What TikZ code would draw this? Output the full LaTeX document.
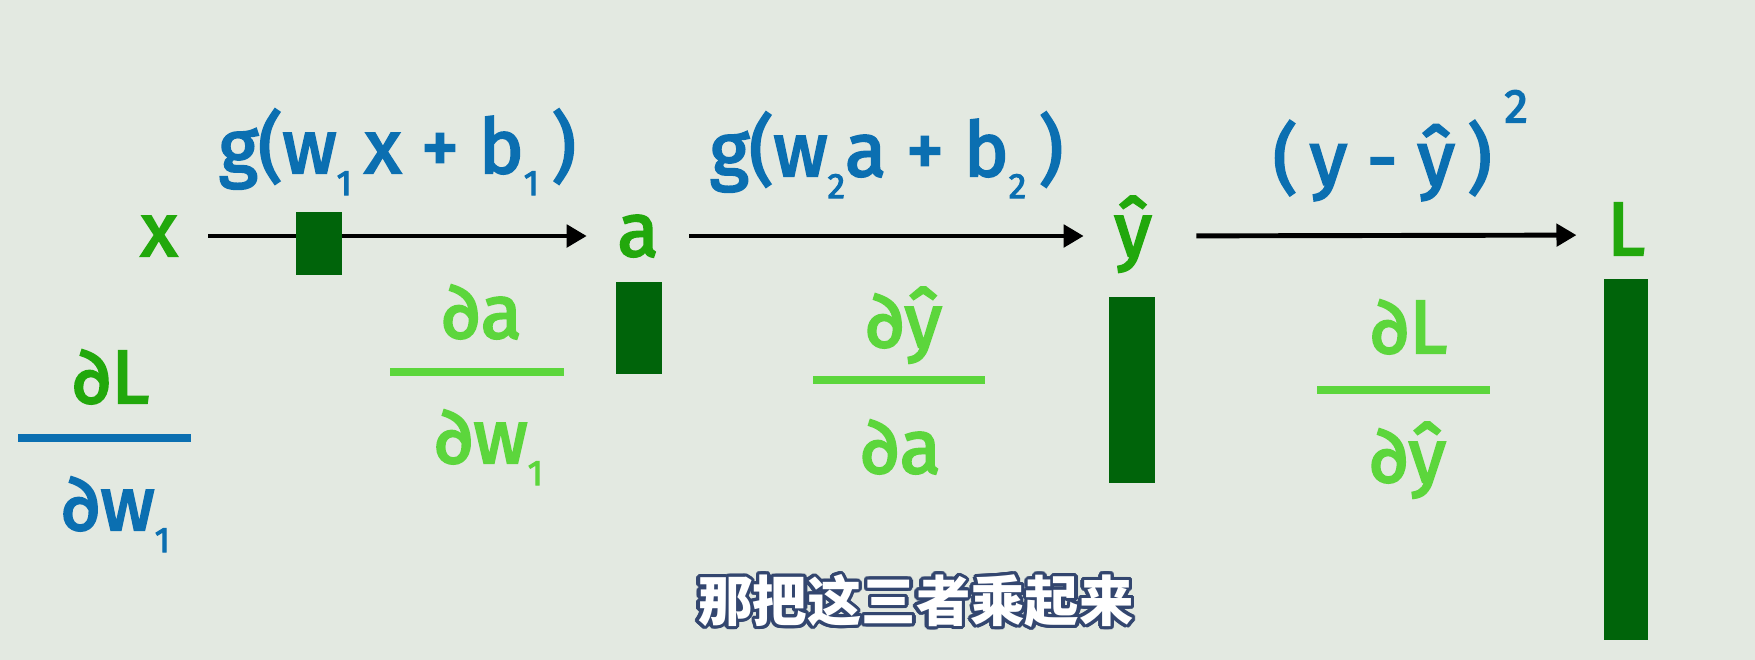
\documentclass[tikz,border=0pt]{standalone}
\usepackage{fontspec}
\setmainfont{Fira Sans}[UprightFeatures={FakeBold=3}]
\newfontfamily\cjkfont{Noto Sans CJK SC}
\usetikzlibrary{arrows.meta,positioning,calc}
\definecolor{bgcol}{HTML}{E3E9E1}
\definecolor{barcol}{HTML}{00640A}
\definecolor{varcol}{HTML}{22A80C}
\definecolor{dercol}{HTML}{5CD63C}
\definecolor{fncol}{HTML}{0B6FB1}
\definecolor{subcol}{HTML}{33466F}
\newcommand\lsub[1]{\raisebox{-2.2mm}{\fontsize{10}{10}\selectfont #1}}

\begin{document}
\begin{tikzpicture}[x=0.1mm,y=-0.1mm,
   >={Triangle[length=2mm,width=2.2mm]},
   var/.style={text=varcol,font=\fontsize{21.5}{24}\selectfont,text height=4mm,text depth=0pt,inner xsep=3mm,inner ysep=0pt,anchor=base},
   fn/.style={text=fncol,font=\fontsize{21.5}{24}\selectfont,anchor=base},
   der/.style={text=dercol,font=\fontsize{21.5}{24}\selectfont,anchor=base,inner sep=0pt},
   flow/.style={->,line width=1.4pt},
   fbar/.style={line width=2.4pt,dercol},
   gbar/.style={fill=barcol},
   subtxt/.style={font=\cjkfont\bfseries\fontsize{15.5}{16}\selectfont,inner sep=0pt}]
  \fill[bgcol] (0,0) rectangle (1755,660);
  % variables along the chain
  \node[var] (x) at (159,256) {x};
  \node[var] (a) at (638,256) {a};
  \node[var] (yh) at (1133,256) {ŷ};
  \node[var] (L) at (1626,255) {L};
  % forward steps
  \draw[flow] (x) -- node[fn,yshift=6.3mm]{g(w\lsub{1}\,x + b\lsub{1}\,)} (a);
  \draw[flow] (a) -- node[fn,yshift=6mm]{g(w\lsub{2}a + b\lsub{2}\,)} (yh);
  \draw[flow,shorten <=1.4mm] (yh) -- node[fn,yshift=5.1mm,xshift=2.1mm]{(\,y - ŷ\,)\,\raisebox{6.2mm}{\fontsize{13.5}{14}\selectfont 2}} (L);
  % gradient sizes
  \fill[gbar] (296,212) rectangle (342,275);
  \fill[gbar] (616,282) rectangle (662,374);
  \fill[gbar] (1109,297) rectangle (1155,483);
  \fill[gbar] (1604,279) rectangle (1648,640);
  % dL/dw1
  \node[der,text=varcol] (n1) at (111,403) {∂L};
  \draw[fbar,fncol] (18,438) -- (191,438);
  \node[der,text=fncol] (d1) at (116,530) {∂w\lsub{1}};
  % da/dw1
  \node[der] (n2) at (482,338) {∂a};
  \draw[fbar] (390,372) -- (564,372);
  \node[der] (d2) at (489,463) {∂w\lsub{1}};
  % dy/da
  \node[der] (n3) at (904,347) {∂ŷ};
  \draw[fbar] (813,380) -- (985,380);
  \node[der] (d3) at (901,473) {∂a};
  % dL/dy
  \node[der] (n4) at (1409,353) {∂L};
  \draw[fbar] (1317,390) -- (1490,390);
  \node[der] (d4) at (1408,482) {∂ŷ};
  % subtitle, dark rim then white letters
  \foreach \ang in {0,20,...,340}
    \node[subtxt,text=subcol] at ($(916,601)+(\ang:0.35mm)$) {那把这三者乘起来};
  \node[subtxt,text=white] (sub) at (916,601) {那把这三者乘起来};
\end{tikzpicture}
\end{document}
